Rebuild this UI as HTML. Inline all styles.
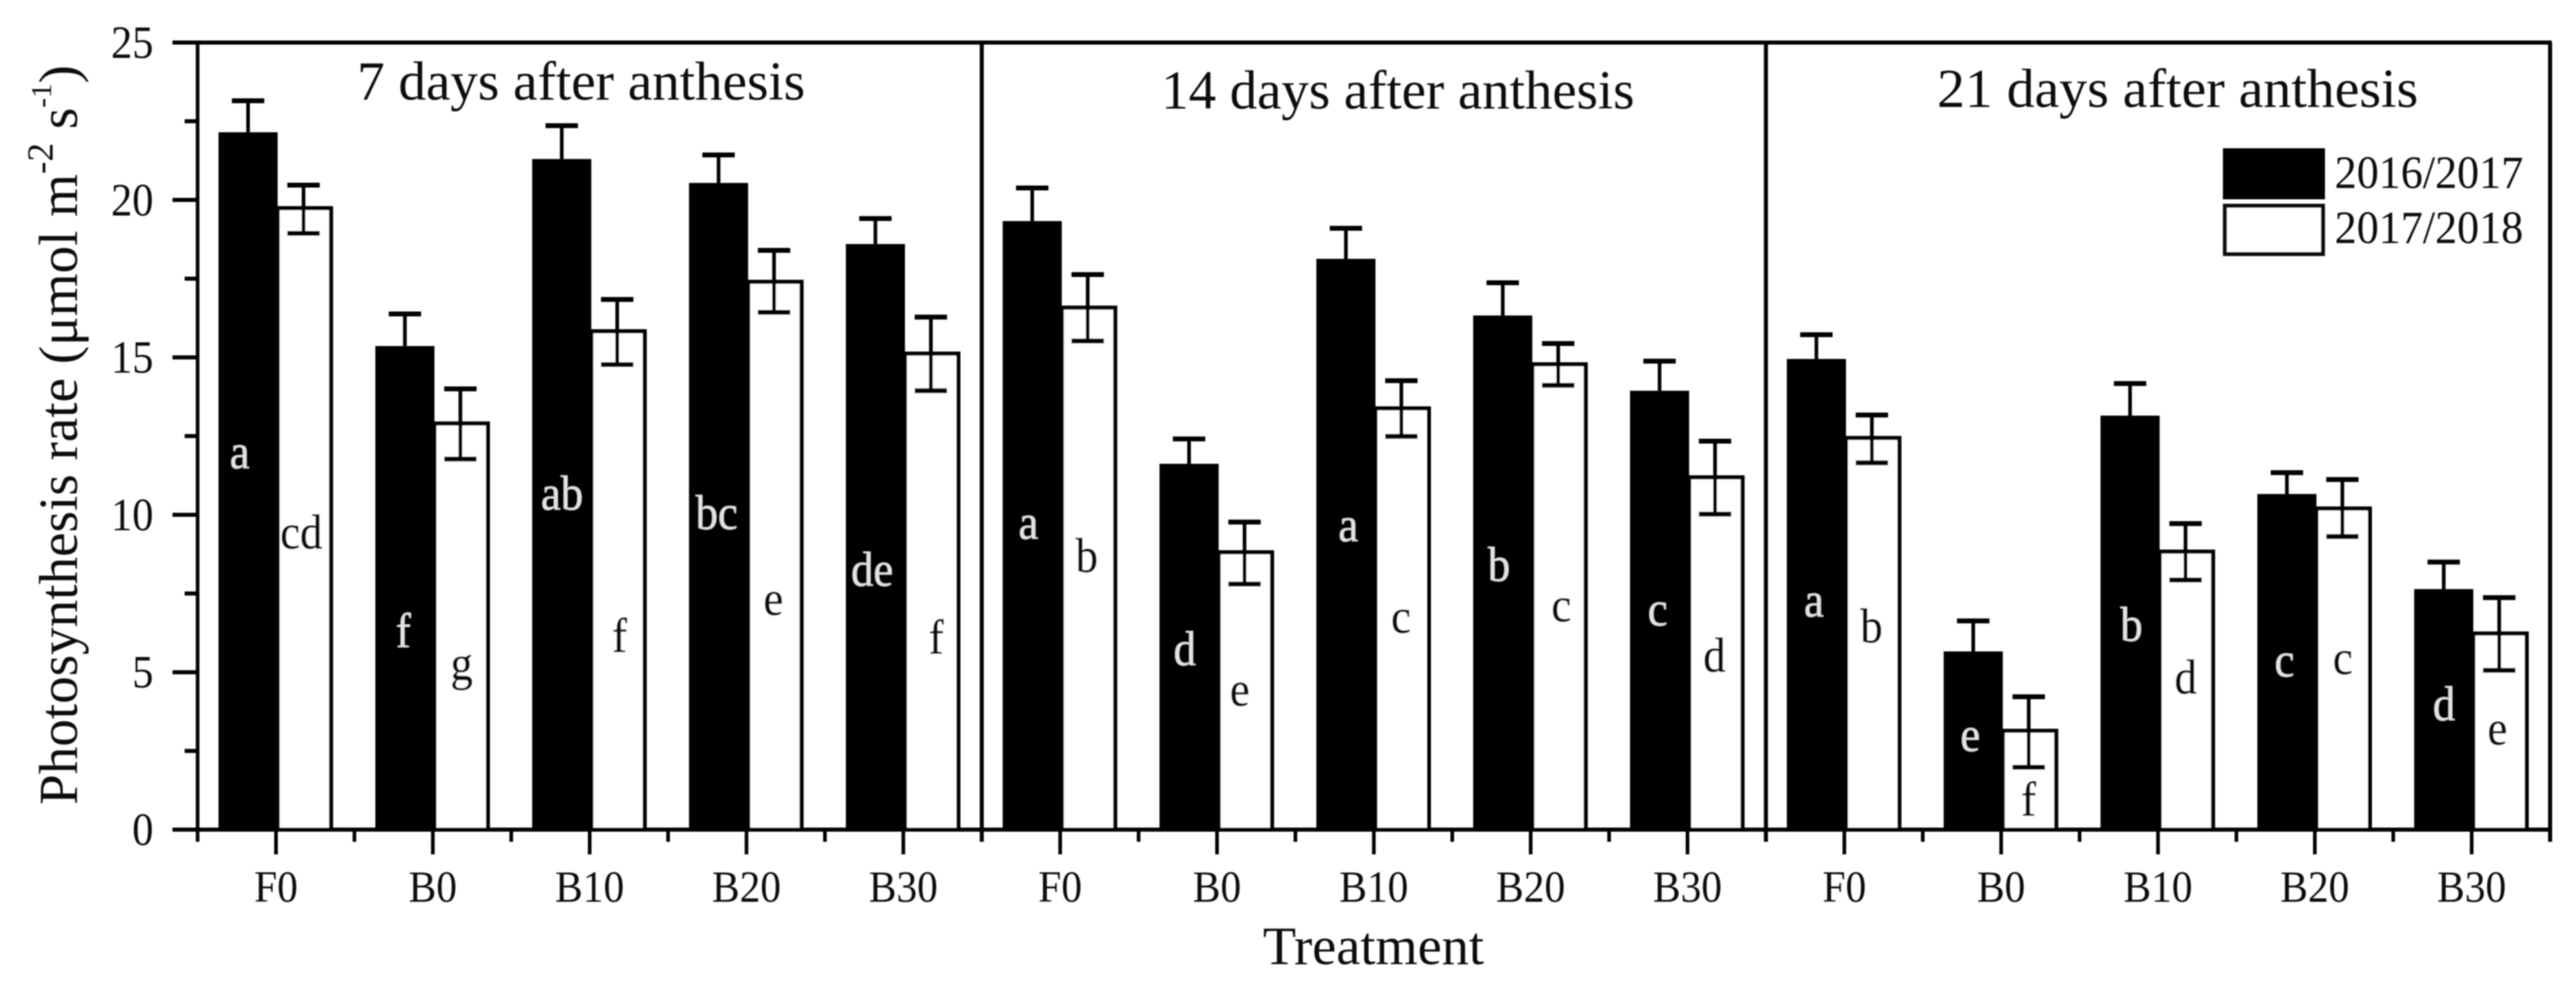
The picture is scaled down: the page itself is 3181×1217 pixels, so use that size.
<!DOCTYPE html>
<html lang="en">
<head>
<meta charset="utf-8">
<title>Photosynthesis rate by treatment</title>
<style>
  html, body { margin: 0; padding: 0; background: #fff; }
  svg { display: block; font-family: "Liberation Serif", serif; fill: #111; }
  .ltr { font-size: 60px; text-anchor: middle; }
  .on-black { fill: #e4e4e4; }
  .on-white { fill: #111; stroke: #111; stroke-width: 0.6px; }
  .title { font-size: 68px; }
  .legend-text { font-size: 57px; }
</style>
</head>
<body>
<svg id="chart" xmlns="http://www.w3.org/2000/svg" width="3181" height="1217" viewBox="0 0 3181 1217">
  <defs><filter id="soft" x="-2%" y="-2%" width="104%" height="104%"><feGaussianBlur stdDeviation="0.8"/></filter></defs>
  <rect x="0" y="0" width="3181" height="1217" fill="#fff"/>
  <g id="plot" filter="url(#soft)">
    <g id="bars"></g>
    <g id="axes"></g>

    <text class="title" x="441" y="123">7 days after anthesis</text>
    <text class="title" transform="translate(1434 134) scale(.995 1)">14 days after anthesis</text>
    <text class="title" transform="translate(2392 132) scale(1.012 1)">21 days after anthesis</text>

    <g>
      <text class="ltr on-black" transform="translate(296 578) scale(.92 1)">a</text>
      <text class="ltr on-white" transform="translate(372 677) scale(.92 1)">cd</text>
      <text class="ltr on-black" transform="translate(498 799) scale(.92 1)">f</text>
      <text class="ltr on-white" transform="translate(570 839) scale(.92 1)">g</text>
      <text class="ltr on-black" transform="translate(694 629) scale(.92 1)">ab</text>
      <text class="ltr on-white" transform="translate(765 805) scale(.92 1)">f</text>
      <text class="ltr on-black" transform="translate(885 653) scale(.92 1)">bc</text>
      <text class="ltr on-white" transform="translate(955 759) scale(.92 1)">e</text>
      <text class="ltr on-black" transform="translate(1077 723) scale(.92 1)">de</text>
      <text class="ltr on-white" transform="translate(1156 807) scale(.92 1)">f</text>

      <text class="ltr on-black" transform="translate(1270 665) scale(.92 1)">a</text>
      <text class="ltr on-white" transform="translate(1342 706) scale(.92 1)">b</text>
      <text class="ltr on-black" transform="translate(1463 821) scale(.92 1)">d</text>
      <text class="ltr on-white" transform="translate(1531 871) scale(.92 1)">e</text>
      <text class="ltr on-black" transform="translate(1665 668) scale(.92 1)">a</text>
      <text class="ltr on-white" transform="translate(1730 781) scale(.92 1)">c</text>
      <text class="ltr on-black" transform="translate(1851 717) scale(.92 1)">b</text>
      <text class="ltr on-white" transform="translate(1928 767) scale(.92 1)">c</text>
      <text class="ltr on-black" transform="translate(2047 772) scale(.92 1)">c</text>
      <text class="ltr on-white" transform="translate(2117 829) scale(.92 1)">d</text>

      <text class="ltr on-black" transform="translate(2240 761) scale(.92 1)">a</text>
      <text class="ltr on-white" transform="translate(2311 793) scale(.92 1)">b</text>
      <text class="ltr on-black" transform="translate(2433 927) scale(.92 1)">e</text>
      <text class="ltr on-white" transform="translate(2505 1007) scale(.92 1)">f</text>
      <text class="ltr on-black" transform="translate(2632 791) scale(.92 1)">b</text>
      <text class="ltr on-white" transform="translate(2699 856) scale(.92 1)">d</text>
      <text class="ltr on-black" transform="translate(2821 835) scale(.92 1)">c</text>
      <text class="ltr on-white" transform="translate(2893 832) scale(.92 1)">c</text>
      <text class="ltr on-black" transform="translate(3018 889) scale(.92 1)">d</text>
      <text class="ltr on-white" transform="translate(3084 919) scale(.92 1)">e</text>
    </g>

    <g>
      <g>
        <rect x="2745" y="183" width="126" height="63" fill="#000"/>
        <text class="legend-text" transform="translate(2883 232) scale(.955 1)">2016/2017</text>
      </g>
      <g>
        <rect x="2747.5" y="254" width="121" height="59.5" fill="#fff" stroke="#111" stroke-width="5"/>
        <text class="legend-text" transform="translate(2883 300) scale(.955 1)">2017/2018</text>
      </g>
    </g>

    <text transform="translate(95 993.5) rotate(-90)" font-size="68">Photosynthesis rate (μmol m<tspan font-size="46" dy="-30">-2</tspan><tspan dy="30"> s</tspan><tspan font-size="36" dy="-32">-1</tspan><tspan dy="32">)</tspan></text>
    <text x="1696" y="1190" font-size="67" text-anchor="middle">Treatment</text>
  </g>
</svg>
<script>
// Chart data (flat, left to right across the three panels)
const categories = ['F0','B0','B10','B20','B30','F0','B0','B10','B20','B30','F0','B0','B10','B20','B30'];
const series2016 = [22.15,15.36,21.3,20.54,18.6, 19.33,11.62,18.13,16.33,13.94, 14.95,5.66,13.15,10.66,7.64];
const series2016High = [23.15,16.38,22.36,21.43,19.41, 20.38,12.41,19.1,17.37,14.88, 15.72,6.63,14.17,11.34,8.5];
const series2017 = [19.74,12.9,15.83,17.4,15.12, 16.58,8.81,13.38,14.78,11.19, 12.44,3.14,8.83,10.2,6.23];
const series2017High = [20.47,14.0,16.84,18.4,16.28, 17.63,9.77,14.26,15.44,12.34, 13.17,4.22,9.72,11.12,7.37];
const series2017Low = [18.94,11.77,14.77,16.43,13.94, 15.52,7.8,12.49,14.11,10.02, 11.65,1.98,7.93,9.31,5.06];
const yTickValues = [0,5,10,15,20,25];
const yTickLabels = ['0','5','10','15','20','25'];
const yMinorValues = [2.5,7.5,12.5,17.5,22.5];
const panelBreaks = [5,10];

const NS = 'http://www.w3.org/2000/svg';
const plotLeft = 244, plotRight = 3149, plotTop = 52.5, plotBottom = 1024;
const yMax = 25;
const bandWidth = (plotRight - plotLeft) / categories.length;
function xCenter(i) { return plotLeft + bandWidth * (i + 0.5); }
function xBoundary(i) { return plotLeft + bandWidth * i; }
function yScale(v) { return plotBottom - (v / yMax) * (plotBottom - plotTop); }

function make(parent, tag, attrs) {
  const el = document.createElementNS(NS, tag);
  for (const k in attrs) el.setAttribute(k, attrs[k]);
  parent.appendChild(el);
  return el;
}
function hLine(parent, x1, x2, y, w) {
  return make(parent, 'line', {x1: x1, x2: x2, y1: y, y2: y, stroke: '#000', 'stroke-width': w});
}
function vLine(parent, x, y1, y2, w) {
  return make(parent, 'line', {x1: x, x2: x, y1: y1, y2: y2, stroke: '#000', 'stroke-width': w});
}

const barsG = document.getElementById('bars');
const axesG = document.getElementById('axes');

categories.forEach(function (cat, i) {
  const c = xCenter(i);
  // open bar first so the solid bar covers its left edge
  const wTop = yScale(series2017[i]);
  const white = make(barsG, 'rect', {x: c + 2, y: wTop, width: 66, height: plotBottom - wTop, fill: '#fff', stroke: '#000', 'stroke-width': 5});
  
  

  const bTop = yScale(series2016[i]);
  const black = make(barsG, 'rect', {x: c - 71, y: bTop, width: 73, height: plotBottom - bTop, fill: '#000'});
  
  

  const bx = c - 34.5;
  const g1 = make(barsG, 'g', {});
  
  
  vLine(g1, bx, yScale(series2016High[i]), bTop, 4.5);
  hLine(g1, bx - 20, bx + 20, yScale(series2016High[i]), 6);

  const wx = c + 34;
  const g2 = make(barsG, 'g', {});
  
  
  vLine(g2, wx, yScale(series2017High[i]), yScale(series2017Low[i]), 4.5);
  hLine(g2, wx - 20, wx + 20, yScale(series2017High[i]), 6);
  hLine(g2, wx - 20, wx + 20, yScale(series2017Low[i]), 6);
});

// frame
const topLine = hLine(axesG, 213, plotRight + 2, plotTop, 5);


const bottomLine = hLine(axesG, 213, plotRight + 2, plotBottom, 5);


const leftLine = vLine(axesG, plotLeft, plotTop, 1039, 4.5);


const rightLine = vLine(axesG, plotRight, plotTop, 1039, 5);



panelBreaks.forEach(function (b) {
  const sep = vLine(axesG, xBoundary(b), plotTop, 1039, 5);
  
  
});

// y ticks
yTickValues.forEach(function (v, i) {
  const t = hLine(axesG, 213, plotLeft, yScale(v), 5);
  
  
  const lab = make(axesG, 'text', {'font-size': 57, 'text-anchor': 'end', transform: 'translate(189.5 ' + (yScale(v) + 19) + ') scale(.92 1)'});
  lab.textContent = yTickLabels[i];
  
  
});
yMinorValues.forEach(function (v) {
  const t = hLine(axesG, 228, plotLeft, yScale(v), 5);
  
  
});

// x ticks
categories.forEach(function (cat, i) {
  const c = xCenter(i);
  const t = vLine(axesG, c, plotBottom, 1054.5, 4.5);
  
  
  const lab = make(axesG, 'text', {'font-size': 55, 'text-anchor': 'middle', transform: 'translate(' + c + ' 1113) scale(.93 1)'});
  lab.textContent = cat;
  
  
  if (i > 0 && panelBreaks.indexOf(i) < 0) {
    const m = vLine(axesG, xBoundary(i), plotBottom, 1039, 4.5);
    
    
  }
});
</script>
</body>
</html>
